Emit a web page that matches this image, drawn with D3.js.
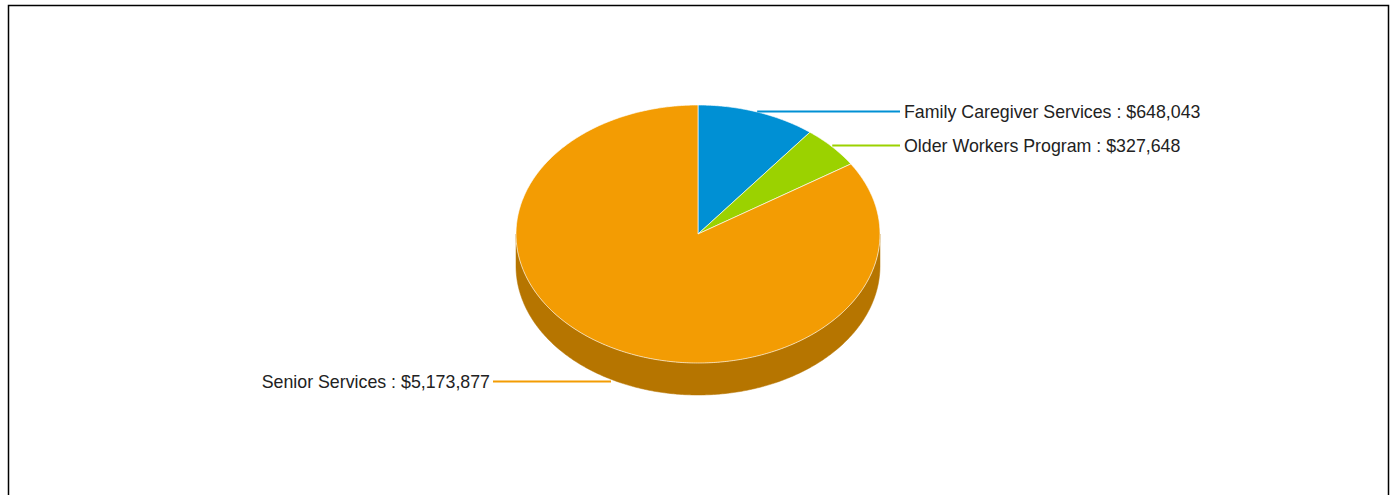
<!DOCTYPE html>
<html>
<head>
<meta charset="utf-8">
<script src="https://cdn.jsdelivr.net/npm/d3@7"></script>
<style>
  body { margin: 0; background: #fff; }
  svg { display: block; }
</style>
</head>
<body>
<div class="container"></div>
<script>
// chart data
const categories = ["Family Caregiver Services", "Older Workers Program", "Senior Services"];
const amounts = [648043, 327648, 5173877];
const sliceColors = ["#0090d4", "#9bd200", "#f39c03"];
const sideColors = ["#006797", "#6e9600", "#b67500"];

const w = 1395;
const h = 495;

/* pie geometry */
const cx = 698, cy = 234;
const rx = 182, ry = 129;
const depth = 32;
const labelX = 900;

const svg = d3.select(".container")
  .append("svg")
  .attr("width", w)
  .attr("height", h);

/* frame */
svg.append("path")
  .attr("d", "M8.5," + h + "V5.5H1388.5V" + h)
  .attr("fill", "none")
  .attr("stroke", "#000")
  .attr("stroke-width", 1.5);

const pie = d3.pie().sort(null).startAngle(0).endAngle(2 * Math.PI);
const arcs = pie(amounts);

// angle 0 = 12 o'clock, clockwise
const px = (a) => cx + rx * Math.sin(a);
const py = (a) => cy - ry * Math.cos(a);
const line = d3.line();

const ellPts = (a0, a1, dy) => {
  const n = Math.max(2, Math.ceil((a1 - a0) / 0.01));
  return d3.range(n + 1).map(i => {
    const a = a0 + (a1 - a0) * i / n;
    return [px(a), py(a) + dy];
  });
};

/* side walls (front half only: pi/2 .. 3pi/2) */
arcs.forEach((d, i) => {
  const a0 = Math.max(d.startAngle, Math.PI / 2);
  const a1 = Math.min(d.endAngle, 3 * Math.PI / 2);
  if (a1 <= a0) return;
  const pts = ellPts(a0, a1, 0).concat(ellPts(a0, a1, depth).reverse());
  svg.append("path")
    .attr("d", line(pts) + "Z")
    .attr("fill", sideColors[i])
    .attr("stroke", sideColors[i])
    .attr("stroke-width", 0.5);
});

/* top faces */
svg.selectAll("path.slice")
  .data(arcs)
  .enter()
  .append("path")
  .attr("class", "slice")
  .attr("d", d => line([[cx, cy]].concat(ellPts(d.startAngle, d.endAngle, 0))) + "Z")
  .attr("fill", (d, i) => sliceColors[i])
  .attr("stroke", "#fff")
  .attr("stroke-opacity", 0.8)
  .attr("stroke-width", 0.8)
  .attr("stroke-linejoin", "round");

/* leader lines and labels */
const fmt = d3.format("$,");
arcs.forEach((d, i) => {
  const m = (d.startAngle + d.endAngle) / 2;
  const right = Math.sin(m) >= 0;
  const front = Math.cos(m) < 0;
  const x0 = px(m);
  const y0 = Math.floor(py(m) + (front ? depth + 2 : -1)) + 0.5;
  const x1 = right ? labelX : 493;
  svg.append("line")
    .attr("x1", x0).attr("y1", y0)
    .attr("x2", x1).attr("y2", y0)
    .attr("stroke", sliceColors[i])
    .attr("stroke-width", 2);
  svg.append("text")
    .attr("x", right ? x1 + 4 : x1 - 3)
    .attr("y", y0)
    .attr("dy", "0.35em")
    .attr("text-anchor", right ? "start" : "end")
    .attr("font-family", "Arial, 'Liberation Sans', sans-serif")
    .attr("font-size", 17.8)
    .attr("fill", "#222")
    .text(categories[i] + " : " + fmt(amounts[i]));
});
</script>
</body>
</html>
